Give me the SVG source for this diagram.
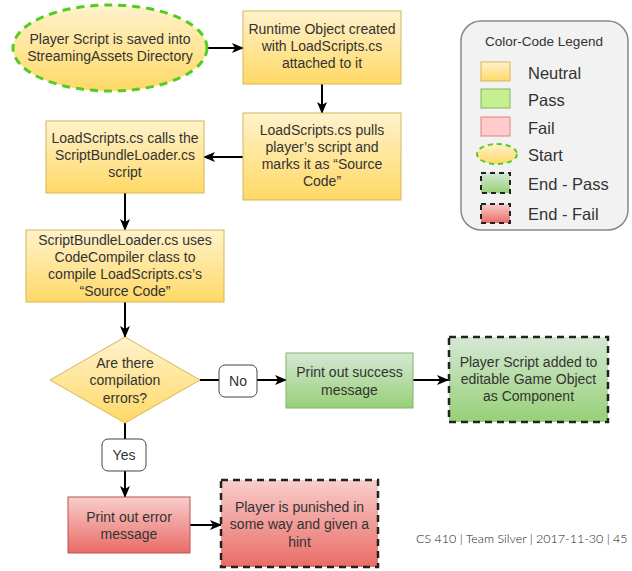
<svg xmlns="http://www.w3.org/2000/svg" width="632" height="571" viewBox="0 0 632 571">
<style>
text{font-family:"Liberation Sans",Arial,sans-serif;font-size:14px;fill:#333;text-anchor:middle}
.leg{font-size:16.5px;text-anchor:start}
.neu{fill:url(#gY);stroke:#d6b656;stroke-width:1}
.pas{fill:url(#gG);stroke:#82b366;stroke-width:1}
.fai{fill:url(#gR);stroke:#b85450;stroke-width:1}
.endp{fill:url(#gG);stroke:#222;stroke-width:2.5;stroke-dasharray:7 5}
.endf{fill:url(#gR);stroke:#222;stroke-width:2.5;stroke-dasharray:7 5}
.start{fill:url(#gY);stroke:#55cc22;stroke-width:3;stroke-dasharray:8 6}
.lbl{fill:#fff;stroke:#444;stroke-width:1}
.c{fill:none;stroke:#000;stroke-width:2}
.a{marker-end:url(#ar)}
</style>
<defs>
<linearGradient id="gY" x1="0" y1="0" x2="0" y2="1"><stop offset="0" stop-color="#fff2cc"/><stop offset="1" stop-color="#ffd966"/></linearGradient>
<linearGradient id="gG" x1="0" y1="0" x2="0" y2="1"><stop offset="0" stop-color="#d5e8d4"/><stop offset="1" stop-color="#97d077"/></linearGradient>
<linearGradient id="gR" x1="0" y1="0" x2="0" y2="1"><stop offset="0" stop-color="#f8cecc"/><stop offset="1" stop-color="#ea6b66"/></linearGradient>
<marker id="ar" viewBox="0 0 12 10" refX="11" refY="5" markerWidth="12" markerHeight="10" markerUnits="userSpaceOnUse" orient="auto"><path d="M0,0 L12,5 L0,10 L3,5 Z" fill="#000"/></marker>
</defs>

<g id="legend">
<rect x="461" y="21" width="167" height="209" rx="20" ry="20" fill="#f2f2f2" stroke="#888" stroke-width="1.5"/>
<text x="544" y="46" style="font-size:13.5px">Color-Code Legend</text>
<rect x="481" y="62" width="29" height="19" class="neu"/>
<text class="leg" x="528" y="79">Neutral</text>
<rect x="481" y="89" width="29" height="19" fill="#c6ef8f" stroke="#82b366"/>
<text class="leg" x="528" y="106">Pass</text>
<rect x="481" y="117" width="29" height="19" fill="#ffcccc" stroke="#e08080"/>
<text class="leg" x="528" y="134">Fail</text>
<ellipse cx="497" cy="154" rx="20" ry="10" fill="url(#gY)" stroke="#55cc22" stroke-width="2" stroke-dasharray="5 4"/>
<text class="leg" x="528" y="161">Start</text>
<rect x="481" y="173" width="29" height="20" fill="url(#gG)" stroke="#222" stroke-width="2" stroke-dasharray="5 4"/>
<text class="leg" x="528" y="190">End - Pass</text>
<rect x="481" y="204" width="29" height="19" fill="url(#gR)" stroke="#222" stroke-width="2" stroke-dasharray="5 4"/>
<text class="leg" x="528" y="220">End - Fail</text>
</g>

<g id="connectors">
<line class="c a" x1="208" y1="48" x2="243" y2="48"/>
<line class="c a" x1="322" y1="84" x2="322" y2="113"/>
<line class="c a" x1="243" y1="157" x2="204" y2="157"/>
<line class="c a" x1="125" y1="193" x2="125" y2="230"/>
<line class="c a" x1="125" y1="302" x2="125" y2="337"/>
<line class="c" x1="200" y1="380" x2="219" y2="380"/>
<line class="c a" x1="257" y1="380" x2="286" y2="380"/>
<line class="c a" x1="413" y1="380" x2="448" y2="380"/>
<line class="c" x1="125" y1="423" x2="125" y2="439"/>
<line class="c a" x1="125" y1="471" x2="125" y2="497"/>
<line class="c a" x1="190" y1="525" x2="221" y2="525"/>
</g>

<g id="start">
<ellipse cx="110" cy="48" rx="97" ry="43" class="start"/>
<text x="110" y="44">Player Script is saved into</text>
<text x="110" y="61">StreamingAssets Directory</text>
</g>

<g id="runtime">
<rect x="243" y="11" width="158" height="73" class="neu"/>
<text x="322" y="34">Runtime Object created</text>
<text x="322" y="51">with LoadScripts.cs</text>
<text x="322" y="68">attached to it</text>
</g>

<g id="pulls">
<rect x="243" y="113" width="158" height="87" class="neu"/>
<text x="322" y="135">LoadScripts.cs pulls</text>
<text x="322" y="152">player’s script and</text>
<text x="322" y="169">marks it as “Source</text>
<text x="322" y="186">Code”</text>
</g>

<g id="calls">
<rect x="46" y="121" width="158" height="72" class="neu"/>
<text x="125" y="143">LoadScripts.cs calls the</text>
<text x="125" y="160">ScriptBundleLoader.cs</text>
<text x="125" y="177">script</text>
</g>

<g id="compile">
<rect x="26" y="230" width="198" height="72" class="neu"/>
<text x="125" y="245">ScriptBundleLoader.cs uses</text>
<text x="125" y="262">CodeCompiler class to</text>
<text x="125" y="279">compile LoadScripts.cs’s</text>
<text x="125" y="296">“Source Code”</text>
</g>

<g id="decision">
<polygon points="125,337 200,380 125,423 50,380" class="neu"/>
<text x="125" y="368">Are there</text>
<text x="125" y="385">compilation</text>
<text x="125" y="403">errors?</text>
</g>

<g id="no-label">
<rect x="219" y="365" width="38" height="32" rx="6" class="lbl"/>
<text x="238" y="386">No</text>
</g>

<g id="yes-label">
<rect x="102" y="439" width="44" height="32" rx="6" class="lbl"/>
<text x="124" y="460">Yes</text>
</g>

<g id="success">
<rect x="286" y="353" width="127" height="55" class="pas"/>
<text x="349.5" y="377">Print out success</text>
<text x="349.5" y="395">message</text>
</g>

<g id="end-pass">
<rect x="449" y="337" width="159" height="85" class="endp"/>
<text x="528.5" y="367">Player Script added to</text>
<text x="528.5" y="384">editable Game Object</text>
<text x="528.5" y="401">as Component</text>
</g>

<g id="error">
<rect x="68" y="497" width="122" height="56" class="fai"/>
<text x="129" y="522">Print out error</text>
<text x="129" y="539">message</text>
</g>

<g id="end-fail">
<rect x="221" y="480" width="157" height="87" class="endf"/>
<text x="299.5" y="512">Player is punished in</text>
<text x="299.5" y="529">some way and given a</text>
<text x="299.5" y="547">hint</text>
</g>

<text x="416" y="543" style="text-anchor:start;font-family:Lato,'Open Sans',sans-serif;font-weight:300;font-size:12.5px;fill:#222">CS 410 | Team Silver | 2017-11-30 | 45</text>
</svg>
